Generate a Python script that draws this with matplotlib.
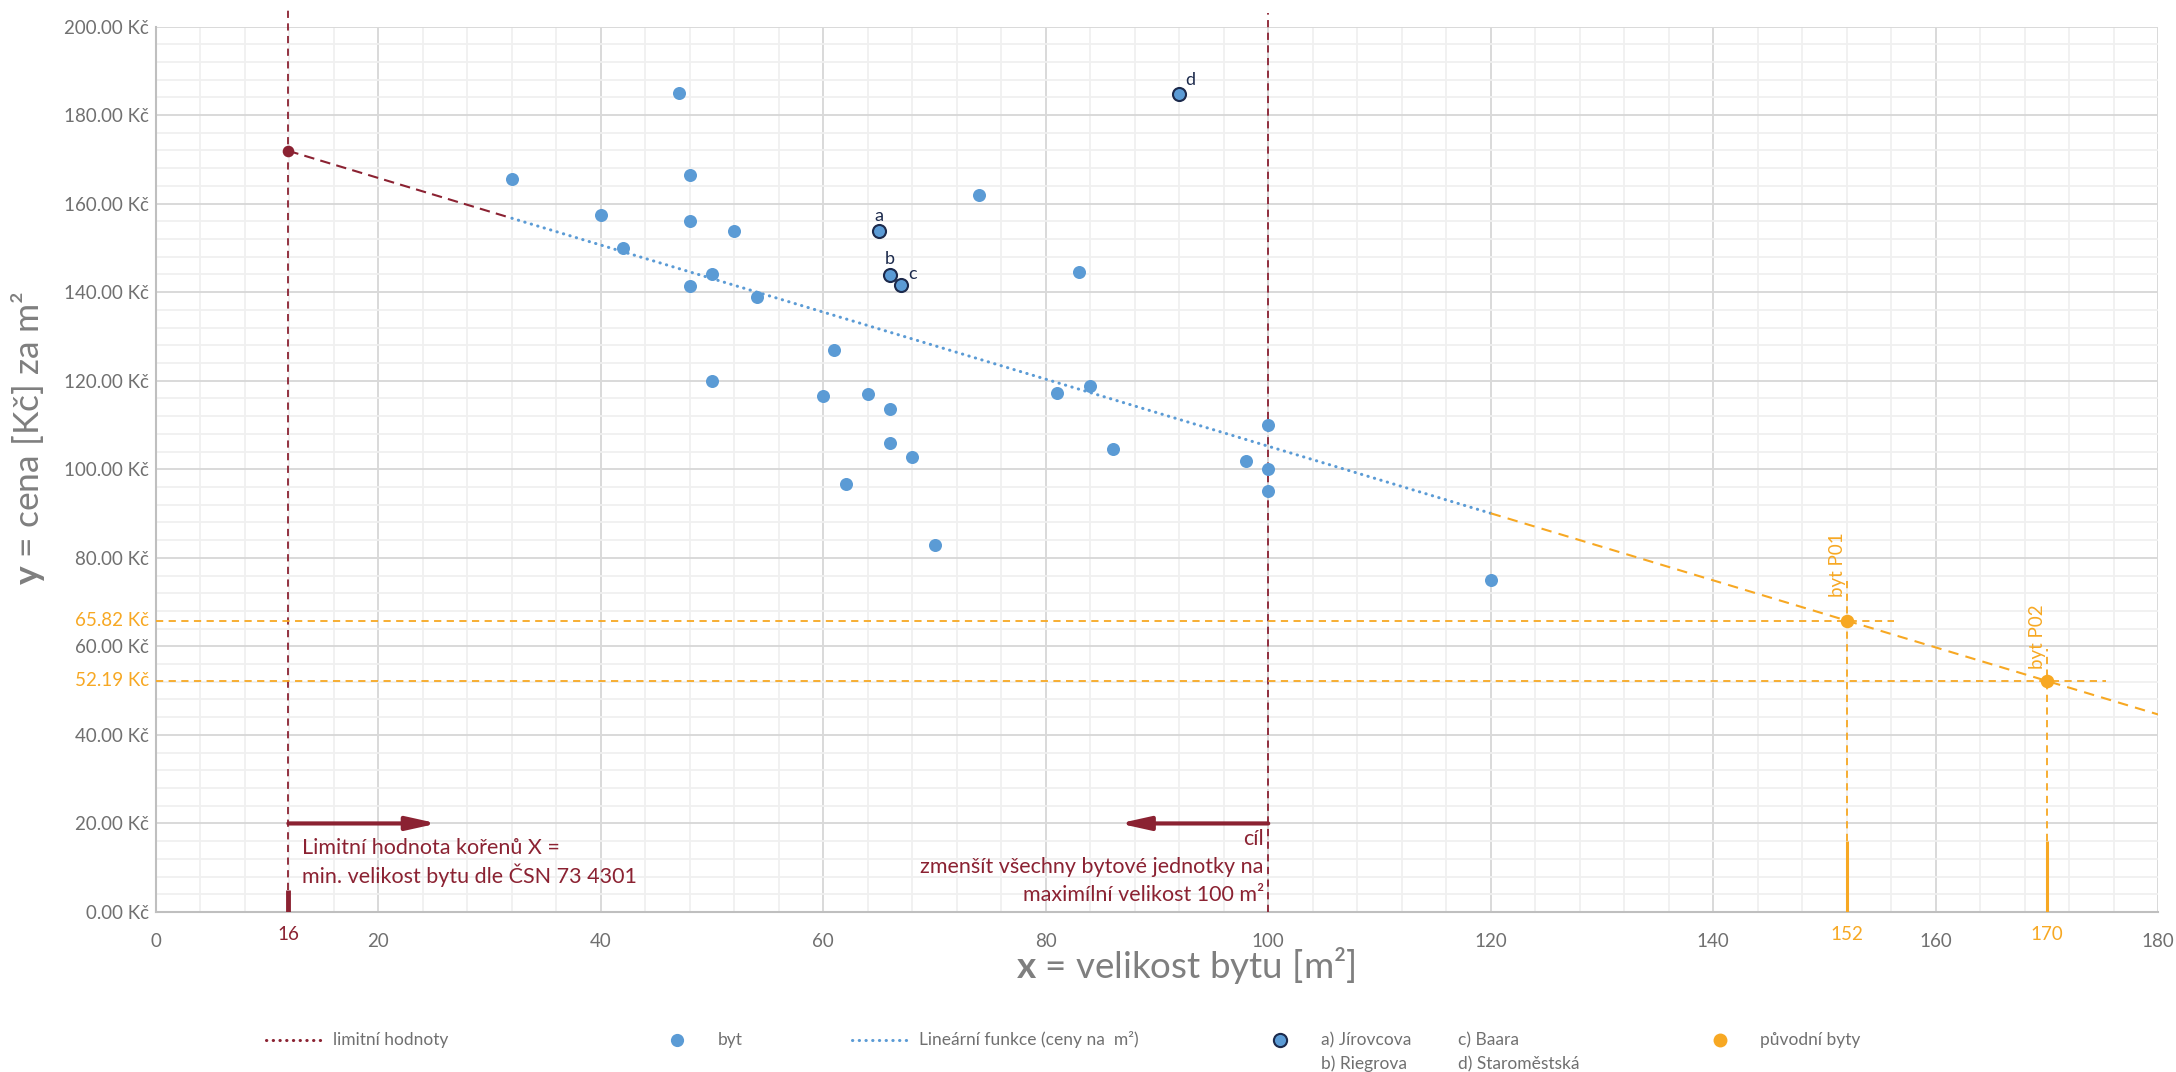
import matplotlib
matplotlib.use('Agg')
import matplotlib.pyplot as plt
from matplotlib.lines import Line2D
from matplotlib.transforms import blended_transform_factory
import numpy as np

# ---------------- data ----------------
byt_x = [32, 40, 42, 47, 48, 48, 48, 50, 50, 52, 54, 60, 61, 62, 64, 66, 66, 68, 70,
         74, 81, 83, 84, 86, 98, 100, 100, 100, 120]
byt_y = [165.5, 157.4, 150, 185, 166.5, 156, 141.5, 144, 120, 153.7, 138.8, 116.5, 127,
         96.7, 117.1, 113.5, 105.9, 102.8, 83, 162, 117.2, 144.5, 118.9, 104.6, 101.9,
         110, 100, 95, 75]
hl_labels = ['a', 'b', 'c', 'd']
hl_x = [65, 66, 67, 92]
hl_y = [153.7, 143.8, 141.7, 184.7]
orig_labels = ['byt P01', 'byt P02']
orig_x = [152, 170]
orig_y = [65.82, 52.19]
orig_xtick = ['152', '170']
orig_ytick = ['65.82 Kč', '52.19 Kč']
trend_intercept = 180.92
trend_slope = -0.7572
limit_min_x = 11.9          # drawn position of the min. limit (labelled "16")
limit_min_label = '16'
limit_max_x = 100
seg_breaks = [limit_min_x, 32, 120, 180]
x_ticks = list(range(0, 181, 20))
y_ticks = list(range(0, 201, 20))

# ---------------- style ----------------
plt.rcParams['font.family'] = ['Lato', 'DejaVu Sans']
plt.rcParams['mathtext.fontset'] = 'custom'
plt.rcParams['mathtext.bf'] = 'Lato:bold'
plt.rcParams['mathtext.rm'] = 'Lato'

BLUE = '#5B9BD5'
RED = '#8B2232'
ORANGE = '#F7A823'
NAVY = '#1C2A4C'
GRAY = '#707070'
AXGRAY = '#7F7F7F'

W, H = 2176, 1072
fig = plt.figure(figsize=(W / 100, H / 100), dpi=100)
L, R, T, B = 156, 2158, 26.5, 912
ax = fig.add_axes([L / W, 1 - B / H, (R - L) / W, (B - T) / H])
ax.set_xlim(0, 180)
ax.set_ylim(0, 200)
ax.set_axisbelow(True)

ax.set_xticks(x_ticks)
ax.set_xticks(np.arange(0, 181, 4), minor=True)
ax.set_yticks(y_ticks)
ax.set_yticks(np.arange(0, 201, 4), minor=True)
ax.grid(which='major', color='#D9D9D9', lw=1.4)
ax.grid(which='minor', color='#F0F0F0', lw=1.3)
ax.tick_params(which='both', length=0)
ax.tick_params(axis='x', pad=15, labelsize=13.5, labelcolor=GRAY)
ax.tick_params(axis='y', pad=5, labelsize=13.5, labelcolor=GRAY)
ax.set_yticklabels([f'{v:.2f} Kč' for v in y_ticks])
for s in ['top', 'right']:
    ax.spines[s].set_visible(False)
for s in ['left', 'bottom']:
    ax.spines[s].set_color('#BFBFBF')
    ax.spines[s].set_linewidth(1.5)

def trend(x):
    return trend_intercept + trend_slope * np.asarray(x)

# trend line segments
xs = np.array(seg_breaks[0:2]); ax.plot(xs, trend(xs), color=RED, lw=1.5, dashes=(5, 3), zorder=3)
xs = np.array(seg_breaks[1:3]); ax.plot(xs, trend(xs), color=BLUE, lw=2.2, dashes=(0.1, 2.1),
                                        dash_capstyle='round', zorder=3)
xs = np.array(seg_breaks[2:4]); ax.plot(xs, trend(xs), color=ORANGE, lw=1.5, dashes=(5, 3.5), zorder=3)

# limit verticals
ax.plot([limit_min_x, limit_min_x], [5, 204], color=RED, lw=1.3, dashes=(4, 3), clip_on=False, zorder=3)
ax.plot([limit_min_x, limit_min_x], [0, 5], color=RED, lw=3.5, solid_capstyle='butt', zorder=3)
ax.plot([limit_max_x, limit_max_x], [0, 203], color=RED, lw=1.3, dashes=(4, 3), clip_on=False, zorder=3)
ax.scatter([limit_min_x], [trend(limit_min_x)], s=70, color=RED, zorder=5, linewidths=0)

# arrows
ax.annotate('', xy=(25.3, 20), xytext=(limit_min_x, 20),
            arrowprops=dict(arrowstyle='-|>,head_length=0.9,head_width=0.2', lw=3, color=RED,
                            shrinkA=0, shrinkB=0, mutation_scale=20), zorder=4)
ax.annotate('', xy=(86.6, 20), xytext=(limit_max_x, 20),
            arrowprops=dict(arrowstyle='-|>,head_length=0.9,head_width=0.2', lw=3, color=RED,
                            shrinkA=0, shrinkB=0, mutation_scale=20), zorder=4)

# annotation texts
FS_ANN = 15.5
ax.text(13.1, 14.4, 'Limitní hodnota kořenů X =', color=RED, fontsize=FS_ANN, va='center', ha='left')
ax.text(13.1, 8.2, 'min. velikost bytu dle ČSN 73 4301', color=RED, fontsize=FS_ANN, va='center', ha='left')
ax.text(99.6, 16.5, 'cíl', color=RED, fontsize=FS_ANN, va='center', ha='right')
ax.text(99.6, 10.2, 'zmenšít všechny bytové jednotky na', color=RED, fontsize=FS_ANN, va='center', ha='right')
ax.text(99.6, 3.8, 'maximílní velikost 100 m²', color=RED, fontsize=FS_ANN, va='center', ha='right')

# original flats
top_ext = [75.7, 59.3]
right_ext = [156.3, 175.3]
for xv, yv, lab, te, re_ in zip(orig_x, orig_y, orig_labels, top_ext, right_ext):
    ax.plot([0, re_], [yv, yv], color=ORANGE, lw=1.3, dashes=(4, 3), zorder=3)
    ax.plot([xv, xv], [16, te], color=ORANGE, lw=1.3, dashes=(4, 3), zorder=3)
    ax.plot([xv, xv], [0, 16], color=ORANGE, lw=2.2, solid_capstyle='butt', zorder=3)
    ax.text(xv - 0.8, te - 4.5, lab, rotation=90, color=ORANGE, fontsize=13.5, ha='center', va='bottom')
ax.scatter(orig_x, orig_y, s=95, color=ORANGE, zorder=5, linewidths=0)

# scatter points
ax.scatter(byt_x, byt_y, s=88, color=BLUE, zorder=4, linewidths=0)
ax.scatter(hl_x, hl_y, s=88, color=BLUE, edgecolors=NAVY, linewidths=1.5, zorder=5)
offs = {'a': (0, 15), 'b': (0, 16), 'c': (11, 11), 'd': (11, 14)}
for lab, xv, yv in zip(hl_labels, hl_x, hl_y):
    dx, dy = offs[lab]
    ax.annotate(lab, (xv, yv), xytext=(dx * 0.72, dy * 0.72), textcoords='offset points',
                ha='center', va='center', color=NAVY, fontsize=13)

# custom colored tick labels
btr = blended_transform_factory(ax.transData, ax.transAxes)
ax.text(limit_min_x, -0.025, limit_min_label, transform=btr, color=RED, fontsize=13.5, ha='center', va='center')
for xv, lab in zip(orig_x, orig_xtick):
    ax.text(xv, -0.025, lab, transform=btr, color=ORANGE, fontsize=13.5, ha='center', va='center')
ltr = blended_transform_factory(ax.transAxes, ax.transData)
for yv, lab in zip(orig_y, orig_ytick):
    ax.text(-0.0035, yv, lab, transform=ltr, color=ORANGE, fontsize=13.5, ha='right', va='center')

# axis titles
fig.text(1186 / W, 1 - 966 / H, r'$\mathbf{x}$ = velikost bytu [m²]', fontsize=26.5, color=AXGRAY,
         ha='center', va='center')
fig.text(28 / W, 1 - 438 / H, r'$\mathbf{y}$ = cena [Kč] za m²', fontsize=25.5, color=AXGRAY,
         ha='center', va='center', rotation=90)

# legend (manual)
def fx(px):
    return px / W
def fy(py):
    return 1 - py / H
ly1, ly2 = 1040, 1064
FS_LEG = 12.5
fig.add_artist(Line2D([fx(266), fx(323)], [fy(ly1)] * 2, color=RED, lw=2.2, dashes=(0.1, 2.1),
                      dash_capstyle='round'))
fig.text(fx(333), fy(ly1), 'limitní hodnoty', fontsize=FS_LEG, color=GRAY, va='center')
fig.add_artist(Line2D([fx(677)], [fy(ly1)], marker='o', ms=9.5, color=BLUE, mew=0, ls='none'))
fig.text(fx(718), fy(ly1), 'byt', fontsize=FS_LEG, color=GRAY, va='center')
fig.add_artist(Line2D([fx(852), fx(911)], [fy(ly1)] * 2, color=BLUE, lw=2.2, dashes=(0.1, 2.1),
                      dash_capstyle='round'))
fig.text(fx(919), fy(ly1), 'Lineární funkce (ceny na  m²)', fontsize=FS_LEG, color=GRAY, va='center')
fig.add_artist(Line2D([fx(1280)], [fy(ly1)], marker='o', ms=9.5, color=BLUE, mec=NAVY, mew=1.5, ls='none'))
fig.text(fx(1321), fy(ly1), 'a) Jírovcova', fontsize=FS_LEG, color=GRAY, va='center')
fig.text(fx(1458), fy(ly1), 'c) Baara', fontsize=FS_LEG, color=GRAY, va='center')
fig.text(fx(1321), fy(ly2), 'b) Riegrova', fontsize=FS_LEG, color=GRAY, va='center')
fig.text(fx(1458), fy(ly2), 'd) Staroměstská', fontsize=FS_LEG, color=GRAY, va='center')
fig.add_artist(Line2D([fx(1720)], [fy(ly1)], marker='o', ms=10, color=ORANGE, mew=0, ls='none'))
fig.text(fx(1760), fy(ly1), 'původní byty', fontsize=FS_LEG, color=GRAY, va='center')

fig.savefig('out.png', dpi=100)
